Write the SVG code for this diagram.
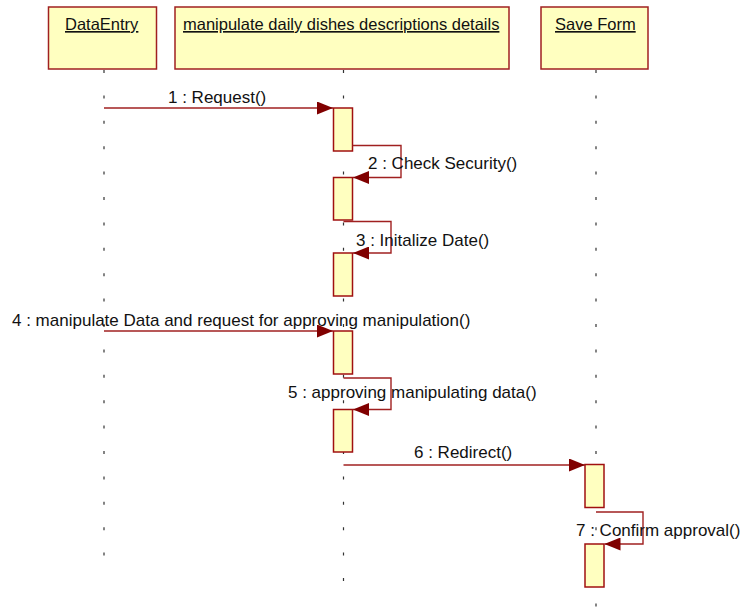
<svg xmlns="http://www.w3.org/2000/svg" width="741" height="612" viewBox="0 0 741 612">
<style>
.hdr{fill:#FFFFC0;stroke:#A02020;stroke-width:1.5}
.act{fill:#FFFFC0;stroke:#A01010;stroke-width:1.5}
.life{stroke:#333;stroke-width:1.2;stroke-dasharray:3 22.4;fill:none}
.msg{stroke:#A02020;stroke-width:1.4;fill:none;marker-end:url(#ah)}
.t{font-family:"Liberation Sans",Arial,sans-serif;font-size:17px;fill:#111}
.h{font-family:"Liberation Sans",Arial,sans-serif;font-size:16.5px;fill:#111;text-decoration:underline}
</style>
<defs>
<marker id="ah" viewBox="0 0 16 13" refX="16" refY="6.5" markerWidth="16" markerHeight="13" orient="auto" markerUnits="userSpaceOnUse">
<path d="M0,0 L16,6.5 L0,13 z" fill="#800000"/>
</marker>
</defs>
<rect width="741" height="612" fill="#fff"/>
<g id="lifelines">
<line class="life" x1="104" y1="70" x2="104" y2="560"/>
<line class="life" x1="343.5" y1="70" x2="343.5" y2="590"/>
<line class="life" x1="596" y1="70" x2="596" y2="611"/>
</g>
<g id="DataEntry">
<rect class="hdr" x="48.5" y="7" width="108" height="62"/>
<text class="h" x="65" y="30">DataEntry</text>
</g>
<g id="manipulate">
<rect class="hdr" x="175" y="7" width="334" height="62"/>
<text class="h" x="183" y="30">manipulate daily dishes descriptions details</text>
</g>
<g id="SaveForm">
<rect class="hdr" x="541" y="7" width="107" height="62"/>
<text class="h" x="555" y="30">Save Form</text>
</g>
<g id="activations">
<rect class="act" x="333.5" y="108" width="19" height="43"/>
<rect class="act" x="333.5" y="177.5" width="19" height="42.5"/>
<rect class="act" x="333.5" y="253" width="19" height="43"/>
<rect class="act" x="333.5" y="331" width="19" height="43"/>
<rect class="act" x="333.5" y="409.5" width="19" height="42.5"/>
<rect class="act" x="585" y="464.5" width="19" height="43"/>
<rect class="act" x="585" y="544" width="19" height="43"/>
</g>
<g id="connectors">
<line class="msg" x1="104" y1="108" x2="333" y2="108"/>
<polyline class="msg" points="352.5,145.5 401,145.5 401,177.5 353,177.5"/>
<polyline class="msg" points="343.5,221.5 391,221.5 391,253 353,253"/>
<line class="msg" x1="104" y1="331" x2="333" y2="331"/>
<polyline class="msg" points="343.5,378 391,378 391,409.5 353,409.5"/>
<line class="msg" x1="343.5" y1="465" x2="585" y2="465"/>
<polyline class="msg" points="596,512 643,512 643,544 604.5,544"/>
</g>
<g id="labels">
<text class="t" x="168" y="103">1 : Request()</text>
<text class="t" x="368" y="169">2 : Check Security()</text>
<text class="t" x="356" y="246">3 : Initalize Date()</text>
<text class="t" x="12" y="326">4 : manipulate Data and request for approving manipulation()</text>
<text class="t" x="288" y="398">5 : approving manipulating data()</text>
<text class="t" x="414" y="458">6 : Redirect()</text>
<text class="t" x="576" y="536">7 : Confirm approval()</text>
</g>
</svg>
